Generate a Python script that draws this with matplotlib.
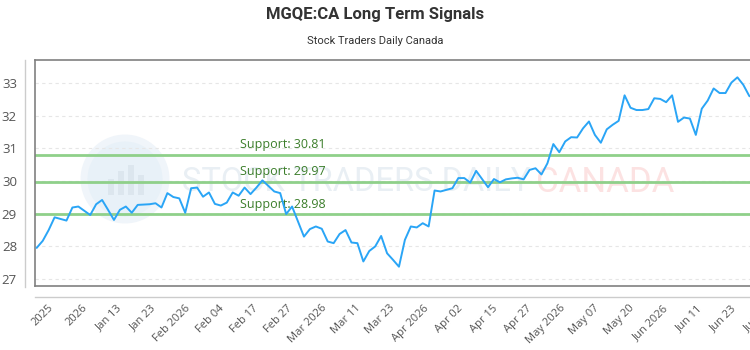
import matplotlib
matplotlib.use("Agg")
import matplotlib.pyplot as plt
import numpy as np
from matplotlib.lines import Line2D
from matplotlib.patches import Circle, Rectangle

# ---- data ----
prices = [
    27.96, 28.17, 28.50, 28.89, 28.84, 28.79, 29.19, 29.22, 29.09, 28.96,
    29.29, 29.42, 29.12, 28.81, 29.12, 29.22, 29.03, 29.27, 29.28, 29.29,
    29.32, 29.19, 29.63, 29.51, 29.47, 29.03, 29.78, 29.80, 29.52, 29.65,
    29.30, 29.25, 29.34, 29.65, 29.55, 29.80, 29.60, 29.80, 30.02, 29.85,
    29.68, 29.63, 28.99, 29.22, 28.76, 28.30, 28.53, 28.61, 28.54, 28.15,
    28.10, 28.38, 28.50, 28.12, 28.10, 27.54, 27.86, 28.00, 28.32, 27.79,
    27.59, 27.38, 28.20, 28.61, 28.58, 28.71, 28.61, 29.71, 29.68, 29.73,
    29.78, 30.09, 30.09, 29.95, 30.31, 30.06, 29.81, 30.06, 29.96, 30.05,
    30.08, 30.10, 30.05, 30.34, 30.39, 30.20, 30.54, 31.13, 30.88, 31.21,
    31.34, 31.33, 31.61, 31.82, 31.41, 31.17, 31.58, 31.72, 31.84, 32.62,
    32.24, 32.17, 32.17, 32.20, 32.53, 32.51, 32.41, 32.62, 31.81, 31.94,
    31.91, 31.41, 32.21, 32.46, 32.83, 32.69, 32.69, 33.01, 33.17, 32.94,
    32.60, 32.52, 32.53,
]
supports = [30.81, 29.97, 28.98]
support_labels = ["Support: 30.81", "Support: 29.97", "Support: 28.98"]
tick_labels = ["2025", "2026", "Jan 13", "Jan 23", "Feb 2026", "Feb 04", "Feb 17",
               "Feb 27", "Mar 2026", "Mar 11", "Mar 23", "Apr 2026", "Apr 02",
               "Apr 15", "Apr 27", "May 2026", "May 07", "May 20", "Jun 2026",
               "Jun 11", "Jun 23", "Jun 30"]
y_ticks = [27, 28, 29, 30, 31, 32, 33]

title = "MGQE:CA Long Term Signals"
subtitle = "Stock Traders Daily Canada"

# ---- figure ----
W, H = 750, 350
fig = plt.figure(figsize=(7.5, 3.5), dpi=100)
fig.patch.set_facecolor("white")

ax = fig.add_axes([35 / W, 1 - 286 / H, 1 - 35 / W + 0.02, (286 - 60) / H])
ax.set_facecolor("none")
ax.set_zorder(2)

x = np.arange(len(prices))
ax.set_xlim(-0.3, 121.8)
ax.set_ylim(26.79, 33.70)

# watermark (behind the axes)
fig.patches.append(Circle((1.25, 3.5 - 1.79), 0.41, transform=fig.dpi_scale_trans,
                          facecolor="#e8f1f8", edgecolor="#f0f5fa", lw=5, zorder=-2))
for bx, bh in [(1.08, 0.16), (1.18, 0.24), (1.28, 0.30), (1.38, 0.20)]:
    fig.patches.append(Rectangle((bx, 3.5 - 1.95), 0.06, bh, transform=fig.dpi_scale_trans,
                                 facecolor="#dce6ee", edgecolor="none", zorder=-1))
wm_font = ["Roboto", "DejaVu Sans"]
fig.text(182 / W, 1 - 182 / H, "STOCK TRADERS DAILY", fontsize=23.5, color="#e9eff4",
         family=wm_font, va="center", ha="left", zorder=-1)
fig.text(536 / W, 1 - 182 / H, "CANADA", fontsize=25, color="#fce2e2",
         family=wm_font, va="center", ha="left", zorder=-1)

# grid
for yv in y_ticks:
    ax.axhline(yv, color="#e6e6e6", lw=0.8, ls=(0, (3, 3)), zorder=1)

# support lines
for s, lab in zip(supports, support_labels):
    ax.axhline(s, color="#8fd08a", lw=2, zorder=2)
    ax.text(34.2, s + 0.11, lab, color="#3b7d2a", fontsize=9, family=["Open Sans", "DejaVu Sans"],
            va="bottom", ha="left", zorder=3)

ax.plot(x, prices, color="#2aa5f6", lw=1.4, zorder=4, clip_on=True)

# axes styling
ax.spines["right"].set_visible(False)
for side in ["left", "bottom", "top"]:
    ax.spines[side].set_color("#808080")
    ax.spines[side].set_linewidth(1.2)

ax.set_yticks(y_ticks)
ax.set_yticklabels([str(v) for v in y_ticks], color="#555555", fontsize=9.5,
                   family=["Open Sans", "DejaVu Sans"])
ax.tick_params(axis="y", length=0, pad=13)

tick_start, tick_step = 1.9, 5.75
tick_pos = [tick_start + tick_step * k for k in range(len(tick_labels))]
ax.set_xticks(tick_pos)
ax.set_xticklabels(tick_labels, rotation=45, ha="right", va="top",
                   rotation_mode="anchor", color="#555555", fontsize=8,
                   family=["Open Sans", "DejaVu Sans"])
ax.tick_params(axis="x", length=0, pad=12)

# extra light axis lines
fig.add_artist(Line2D([25 / W, 25 / W], [1 - 60 / H, 1 - 287 / H], color="#cccccc", lw=1))
fig.add_artist(Line2D([35 / W, 1.0], [1 - 297 / H, 1 - 297 / H], color="#cccccc", lw=1))

fig.text(0.5, 1 - 15 / H, title, ha="center", va="center", fontsize=12,
         fontweight="bold", color="#333333", family=["Roboto", "DejaVu Sans"])
fig.text(0.5, 1 - 41 / H, subtitle, ha="center", va="center", fontsize=8,
         color="#333333", family=["Roboto", "DejaVu Sans"])

fig.savefig("out.png", dpi=100)
